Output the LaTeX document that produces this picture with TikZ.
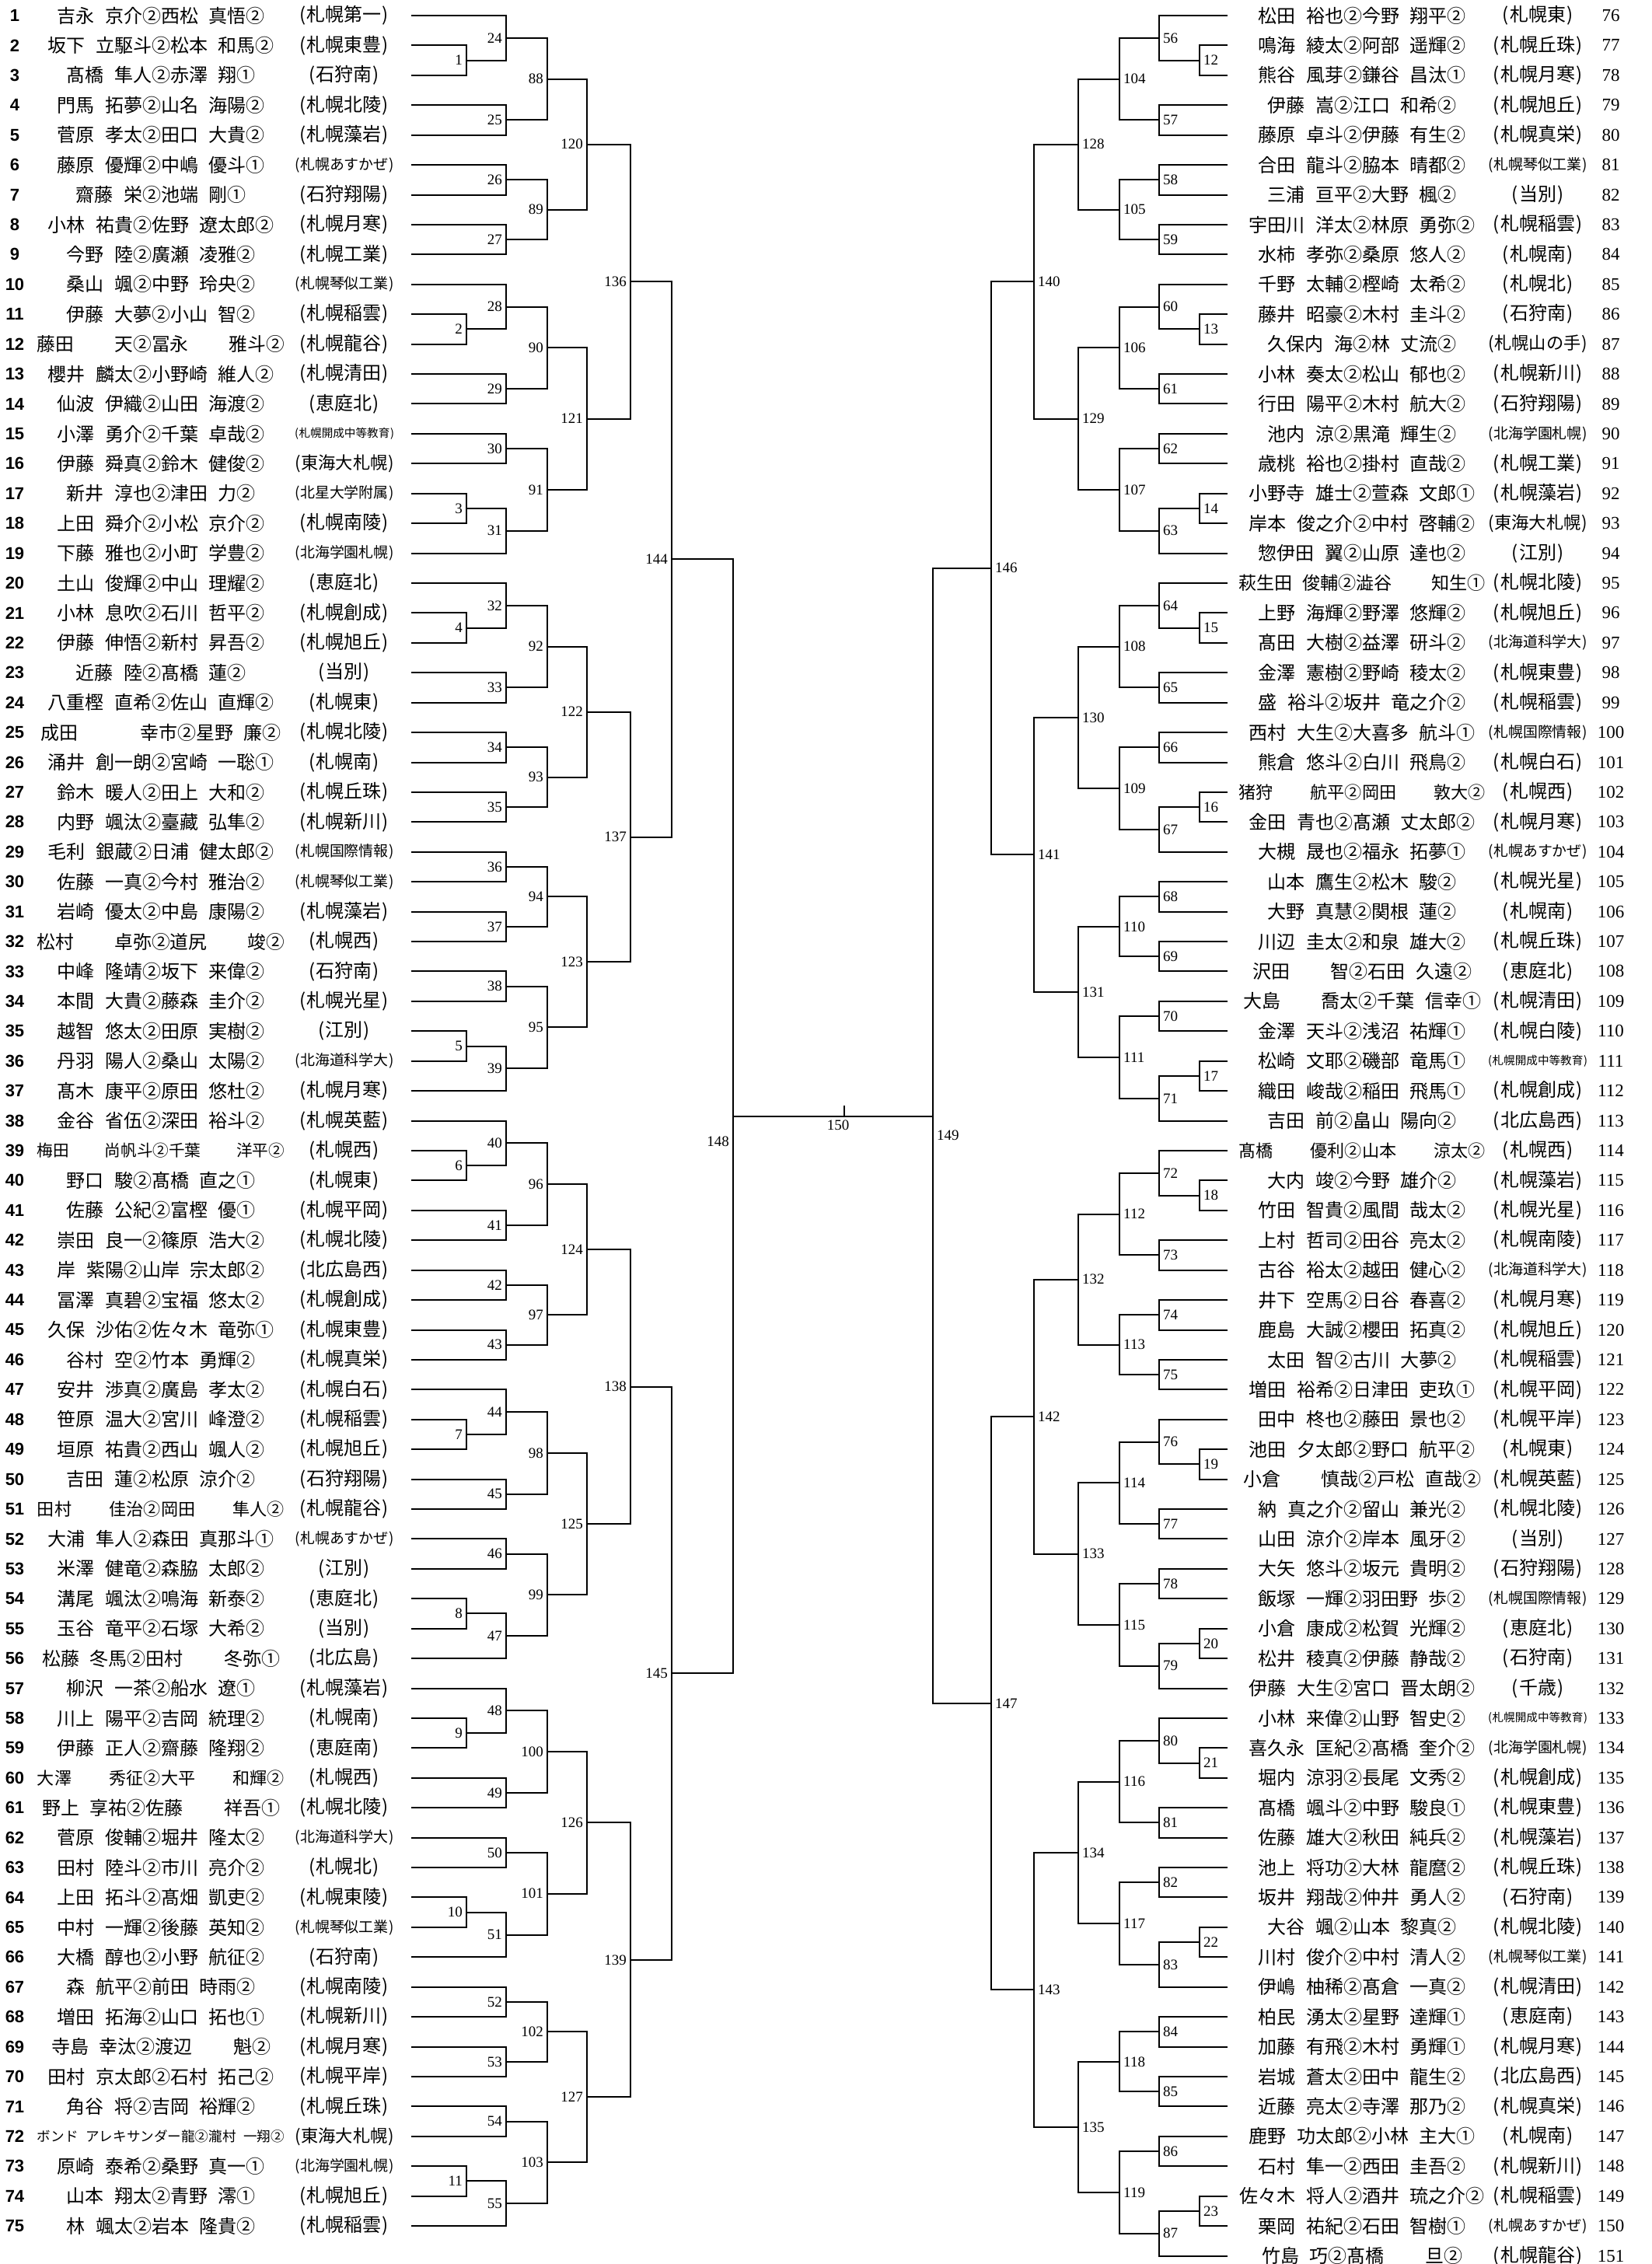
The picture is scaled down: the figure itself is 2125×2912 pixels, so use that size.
\documentclass[tikz,border=0pt]{standalone}
\usepackage{fontspec}
\usepackage{graphicx}
\usepackage{newunicodechar}
\setmainfont{Liberation Serif}
\newfontfamily\jpfont{Noto Sans CJK JP}
\newfontfamily\nofont{Liberation Sans}
\usetikzlibrary{calc}

% the gap in a name is narrower than a full width space
\newunicodechar{　}{\hspace{.55em}}

% shrink a text to a width when it is wider
\newcommand\fitto[2]{\setbox0\hbox{#2}\ifdim\wd0>#1pt\resizebox{#1pt}{!}{\box0}\else\box0\fi}

% match: number, column, two entries
\newcommand\matchL[4]{%
  \path ($(#3)!.5!(#4)$) coordinate (tmp);
  \coordinate (m#1) at (#2 |- tmp);
  \draw[bracket] (#3) -| (m#1) (#4) -| (m#1);
  \node[matchno, anchor=east] (l#1) at ($(m#1)+(-4,0)$) {#1};
}
\newcommand\matchR[4]{%
  \path ($(#3)!.5!(#4)$) coordinate (tmp);
  \coordinate (m#1) at (#2 |- tmp);
  \draw[bracket] (#3) -| (m#1) (#4) -| (m#1);
  \node[matchno, anchor=west] (l#1) at ($(m#1)+(4,0)$) {#1};
}

\tikzset{
  entno/.style={font=\nofont\bfseries\fontsize{22}{22}\selectfont, inner sep=0pt},
  entnoR/.style={font=\fontsize{23}{23}\selectfont, inner sep=0pt},
  entname/.style={font=\jpfont\fontsize{24}{24}\selectfont, inner sep=0pt},
  matchno/.style={font=\fontsize{19}{19}\selectfont, inner sep=1pt},
  bracket/.style={line width=2pt},
}

\begin{document}
\begin{tikzpicture}[x=1pt, y=-1pt]
  \fill[white] (0,0) rectangle (2125,2912);
  \useasboundingbox (0,0) rectangle (2125,2912);

  % columns of the bracket
  \coordinate (xL0) at (600,0);  \coordinate (xL1) at (651,0);
  \coordinate (xL2) at (704,0);  \coordinate (xL3) at (755,0);
  \coordinate (xL4) at (811,0);  \coordinate (xL5) at (864,0);
  \coordinate (xL6) at (943,0);
  \coordinate (xR0) at (1543,0); \coordinate (xR1) at (1491,0);
  \coordinate (xR2) at (1440,0); \coordinate (xR3) at (1387,0);
  \coordinate (xR4) at (1330,0); \coordinate (xR5) at (1275,0);
  \coordinate (xR6) at (1200,0); \coordinate (xC) at (1086,0);

  % left entries
  \foreach \n/\nm/\sc in {
    1/吉永　京介②西松　真悟②/札幌第一,
    2/坂下　立駆斗②松本　和馬②/札幌東豊,
    3/髙橋　隼人②赤澤　翔①/石狩南,
    4/門馬　拓夢②山名　海陽②/札幌北陵,
    5/菅原　孝太②田口　大貴②/札幌藻岩,
    6/藤原　優輝②中嶋　優斗①/札幌あすかぜ,
    7/齋藤　栄②池端　剛①/石狩翔陽,
    8/小林　祐貴②佐野　遼太郎②/札幌月寒,
    9/今野　陸②廣瀬　凌雅②/札幌工業,
    10/桑山　颯②中野　玲央②/札幌琴似工業,
    11/伊藤　大夢②小山　智②/札幌稲雲,
    12/藤田　　　　天②冨永　　　　雅斗②/札幌龍谷,
    13/櫻井　麟太②小野崎　維人②/札幌清田,
    14/仙波　伊織②山田　海渡②/恵庭北,
    15/小澤　勇介②千葉　卓哉②/札幌開成中等教育,
    16/伊藤　舜真②鈴木　健俊②/東海大札幌,
    17/新井　淳也②津田　力②/北星大学附属,
    18/上田　舜介②小松　京介②/札幌南陵,
    19/下藤　雅也②小町　学豊②/北海学園札幌,
    20/土山　俊輝②中山　理耀②/恵庭北,
    21/小林　息吹②石川　哲平②/札幌創成,
    22/伊藤　伸悟②新村　昇吾②/札幌旭丘,
    23/近藤　陸②髙橋　蓮②/当別,
    24/八重樫　直希②佐山　直輝②/札幌東,
    25/成田　　　　　　幸市②星野　廉②/札幌北陵,
    26/涌井　創一朗②宮崎　一聡①/札幌南,
    27/鈴木　暖人②田上　大和②/札幌丘珠,
    28/内野　颯汰②臺藏　弘隼②/札幌新川,
    29/毛利　銀蔵②日浦　健太郎②/札幌国際情報,
    30/佐藤　一真②今村　雅治②/札幌琴似工業,
    31/岩崎　優太②中島　康陽②/札幌藻岩,
    32/松村　　　　卓弥②道尻　　　　竣②/札幌西,
    33/中峰　隆靖②坂下　来偉②/石狩南,
    34/本間　大貴②藤森　圭介②/札幌光星,
    35/越智　悠太②田原　実樹②/江別,
    36/丹羽　陽人②桑山　太陽②/北海道科学大,
    37/髙木　康平②原田　悠杜②/札幌月寒,
    38/金谷　省伍②深田　裕斗②/札幌英藍,
    39/梅田　　　　尚帆斗②千葉　　　　洋平②/札幌西,
    40/野口　駿②髙橋　直之①/札幌東,
    41/佐藤　公紀②富樫　優①/札幌平岡,
    42/崇田　良一②篠原　浩大②/札幌北陵,
    43/岸　紫陽②山岸　宗太郎②/北広島西,
    44/冨澤　真碧②宝福　悠太②/札幌創成,
    45/久保　沙佑②佐々木　竜弥①/札幌東豊,
    46/谷村　空②竹本　勇輝②/札幌真栄,
    47/安井　渉真②廣島　孝太②/札幌白石,
    48/笹原　温大②宮川　峰澄②/札幌稲雲,
    49/垣原　祐貴②西山　颯人②/札幌旭丘,
    50/吉田　蓮②松原　涼介②/石狩翔陽,
    51/田村　　　　佳治②岡田　　　　隼人②/札幌龍谷,
    52/大浦　隼人②森田　真那斗①/札幌あすかぜ,
    53/米澤　健竜②森脇　太郎②/江別,
    54/溝尾　颯汰②鳴海　新泰②/恵庭北,
    55/玉谷　竜平②石塚　大希②/当別,
    56/松藤　冬馬②田村　　　　冬弥①/北広島,
    57/柳沢　一茶②船水　遼①/札幌藻岩,
    58/川上　陽平②吉岡　統理②/札幌南,
    59/伊藤　正人②齋藤　隆翔②/恵庭南,
    60/大澤　　　　秀征②大平　　　　和輝②/札幌西,
    61/野上　享祐②佐藤　　　　祥吾①/札幌北陵,
    62/菅原　俊輔②堀井　隆太②/北海道科学大,
    63/田村　陸斗②市川　亮介②/札幌北,
    64/上田　拓斗②髙畑　凱吏②/札幌東陵,
    65/中村　一輝②後藤　英知②/札幌琴似工業,
    66/大橋　醇也②小野　航征②/石狩南,
    67/森　航平②前田　時雨②/札幌南陵,
    68/増田　拓海②山口　拓也①/札幌新川,
    69/寺島　幸汰②渡辺　　　　魁②/札幌月寒,
    70/田村　京太郎②石村　拓己②/札幌平岸,
    71/角谷　将②吉岡　裕輝②/札幌丘珠,
    72/ボンド　アレキサンダー龍②瀧村　一翔②/東海大札幌,
    73/原崎　泰希②桑野　真一①/北海学園札幌,
    74/山本　翔太②青野　澪①/札幌旭丘,
    75/林　颯太②岩本　隆貴②/札幌稲雲}
  {
    \pgfmathsetmacro\yy{20+(\n-1)*38.42}
    \node[entno] (no\n) at (19,\yy) {\n};
    \node[entname] (nm\n) at (207,\yy) {\fitto{318}{\nm}};
    \node[entname] (sc\n) at (443,\yy) {\fitto{128}{(\kern1pt\sc\kern1pt)}};
    \coordinate (e\n) at (529,\yy);
  }

  % right entries
  \foreach \n/\nm/\sc in {
    76/松田　裕也②今野　翔平②/札幌東,
    77/鳴海　綾太②阿部　遥輝②/札幌丘珠,
    78/熊谷　風芽②鎌谷　昌汰①/札幌月寒,
    79/伊藤　嵩②江口　和希②/札幌旭丘,
    80/藤原　卓斗②伊藤　有生②/札幌真栄,
    81/合田　龍斗②脇本　晴都②/札幌琴似工業,
    82/三浦　亘平②大野　楓②/当別,
    83/宇田川　洋太②林原　勇弥②/札幌稲雲,
    84/水柿　孝弥②桑原　悠人②/札幌南,
    85/千野　太輔②樫崎　太希②/札幌北,
    86/藤井　昭豪②木村　圭斗②/石狩南,
    87/久保内　海②林　丈流②/札幌山の手,
    88/小林　奏太②松山　郁也②/札幌新川,
    89/行田　陽平②木村　航大②/石狩翔陽,
    90/池内　涼②黒滝　輝生②/北海学園札幌,
    91/歳桃　裕也②掛村　直哉②/札幌工業,
    92/小野寺　雄士②萱森　文郎①/札幌藻岩,
    93/岸本　俊之介②中村　啓輔②/東海大札幌,
    94/惣伊田　翼②山原　達也②/江別,
    95/萩生田　俊輔②澁谷　　　　知生①/札幌北陵,
    96/上野　海輝②野澤　悠輝②/札幌旭丘,
    97/髙田　大樹②益澤　研斗②/北海道科学大,
    98/金澤　憲樹②野崎　稜太②/札幌東豊,
    99/盛　裕斗②坂井　竜之介②/札幌稲雲,
    100/西村　大生②大喜多　航斗①/札幌国際情報,
    101/熊倉　悠斗②白川　飛鳥②/札幌白石,
    102/猪狩　　　　航平②岡田　　　　敦大②/札幌西,
    103/金田　青也②髙瀬　丈太郎②/札幌月寒,
    104/大槻　晟也②福永　拓夢①/札幌あすかぜ,
    105/山本　鷹生②松木　駿②/札幌光星,
    106/大野　真慧②関根　蓮②/札幌南,
    107/川辺　圭太②和泉　雄大②/札幌丘珠,
    108/沢田　　　　智②石田　久遠②/恵庭北,
    109/大島　　　　喬太②千葉　信幸①/札幌清田,
    110/金澤　天斗②浅沼　祐輝①/札幌白陵,
    111/松崎　文耶②磯部　竜馬①/札幌開成中等教育,
    112/織田　峻哉②稲田　飛馬①/札幌創成,
    113/吉田　前②畠山　陽向②/北広島西,
    114/髙橋　　　　優利②山本　　　　涼太②/札幌西,
    115/大内　竣②今野　雄介②/札幌藻岩,
    116/竹田　智貴②風間　哉太②/札幌光星,
    117/上村　哲司②田谷　亮太②/札幌南陵,
    118/古谷　裕太②越田　健心②/北海道科学大,
    119/井下　空馬②日谷　春喜②/札幌月寒,
    120/鹿島　大誠②櫻田　拓真②/札幌旭丘,
    121/太田　智②古川　大夢②/札幌稲雲,
    122/増田　裕希②日津田　吏玖①/札幌平岡,
    123/田中　柊也②藤田　景也②/札幌平岸,
    124/池田　夕太郎②野口　航平②/札幌東,
    125/小倉　　　　慎哉②戸松　直哉②/札幌英藍,
    126/納　真之介②留山　兼光②/札幌北陵,
    127/山田　涼介②岸本　風牙②/当別,
    128/大矢　悠斗②坂元　貴明②/石狩翔陽,
    129/飯塚　一輝②羽田野　歩②/札幌国際情報,
    130/小倉　康成②松賀　光輝②/恵庭北,
    131/松井　稜真②伊藤　静哉②/石狩南,
    132/伊藤　大生②宮口　晋太朗②/千歳,
    133/小林　来偉②山野　智史②/札幌開成中等教育,
    134/喜久永　匡紀②髙橋　奎介②/北海学園札幌,
    135/堀内　涼羽②長尾　文秀②/札幌創成,
    136/髙橋　颯斗②中野　駿良①/札幌東豊,
    137/佐藤　雄大②秋田　純兵②/札幌藻岩,
    138/池上　将功②大林　龍麿②/札幌丘珠,
    139/坂井　翔哉②仲井　勇人②/石狩南,
    140/大谷　颯②山本　黎真②/札幌北陵,
    141/川村　俊介②中村　清人②/札幌琴似工業,
    142/伊嶋　柚稀②髙倉　一真②/札幌清田,
    143/柏民　湧太②星野　達輝①/恵庭南,
    144/加藤　有飛②木村　勇輝①/札幌月寒,
    145/岩城　蒼太②田中　龍生②/北広島西,
    146/近藤　亮太②寺澤　那乃②/札幌真栄,
    147/鹿野　功太郎②小林　主大①/札幌南,
    148/石村　隼一②西田　圭吾②/札幌新川,
    149/佐々木　将人②酒井　琉之介②/札幌稲雲,
    150/栗岡　祐紀②石田　智樹①/札幌あすかぜ,
    151/竹島　巧②髙橋　　　　旦②/札幌龍谷}
  {
    \pgfmathsetmacro\yy{20+(\n-76)*38.42}
    \node[entnoR] (no\n) at (2072,\yy) {\n};
    \node[entname] (nm\n) at (1752,\yy) {\fitto{318}{\nm}};
    \node[entname] (sc\n) at (1978,\yy) {\fitto{128}{(\kern1pt\sc\kern1pt)}};
    \coordinate (e\n) at (1579,\yy);
  }

  % first round, left
  \foreach \k/\a/\b in {1/2/3, 2/11/12, 3/17/18, 4/21/22, 5/35/36, 6/39/40,
                        7/48/49, 8/54/55, 9/58/59, 10/64/65, 11/73/74}
    {\matchL{\k}{xL0}{e\a}{e\b}}
  % first round, right
  \foreach \k/\a/\b in {12/77/78, 13/86/87, 14/92/93, 15/96/97, 16/102/103,
                        17/111/112, 18/115/116, 19/124/125, 20/130/131,
                        21/134/135, 22/140/141, 23/149/150}
    {\matchR{\k}{xR0}{e\a}{e\b}}

  % second round, left
  \foreach \k/\a/\b in {24/e1/m1, 25/e4/e5, 26/e6/e7, 27/e8/e9, 28/e10/m2,
                        29/e13/e14, 30/e15/e16, 31/m3/e19, 32/e20/m4, 33/e23/e24,
                        34/e25/e26, 35/e27/e28, 36/e29/e30, 37/e31/e32, 38/e33/e34,
                        39/m5/e37, 40/e38/m6, 41/e41/e42, 42/e43/e44, 43/e45/e46,
                        44/e47/m7, 45/e50/e51, 46/e52/e53, 47/m8/e56, 48/e57/m9,
                        49/e60/e61, 50/e62/e63, 51/m10/e66, 52/e67/e68, 53/e69/e70,
                        54/e71/e72, 55/m11/e75}
    {\matchL{\k}{xL1}{\a}{\b}}
  % second round, right
  \foreach \k/\a/\b in {56/e76/m12, 57/e79/e80, 58/e81/e82, 59/e83/e84, 60/e85/m13,
                        61/e88/e89, 62/e90/e91, 63/m14/e94, 64/e95/m15, 65/e98/e99,
                        66/e100/e101, 67/m16/e104, 68/e105/e106, 69/e107/e108,
                        70/e109/e110, 71/m17/e113, 72/e114/m18, 73/e117/e118,
                        74/e119/e120, 75/e121/e122, 76/e123/m19, 77/e126/e127,
                        78/e128/e129, 79/m20/e132, 80/e133/m21, 81/e136/e137,
                        82/e138/e139, 83/m22/e142, 84/e143/e144, 85/e145/e146,
                        86/e147/e148, 87/m23/e151}
    {\matchR{\k}{xR1}{\a}{\b}}

  % later rounds
  \foreach \i in {0,...,15} {
    \pgfmathtruncatemacro\a{24+2*\i} \pgfmathtruncatemacro\b{25+2*\i}
    \pgfmathtruncatemacro\k{88+\i}
    \matchL{\k}{xL2}{m\a}{m\b}
    \pgfmathtruncatemacro\a{56+2*\i} \pgfmathtruncatemacro\b{57+2*\i}
    \pgfmathtruncatemacro\k{104+\i}
    \matchR{\k}{xR2}{m\a}{m\b}
  }
  \foreach \i in {0,...,7} {
    \pgfmathtruncatemacro\a{88+2*\i} \pgfmathtruncatemacro\b{89+2*\i}
    \pgfmathtruncatemacro\k{120+\i}
    \matchL{\k}{xL3}{m\a}{m\b}
    \pgfmathtruncatemacro\a{104+2*\i} \pgfmathtruncatemacro\b{105+2*\i}
    \pgfmathtruncatemacro\k{128+\i}
    \matchR{\k}{xR3}{m\a}{m\b}
  }
  \foreach \i in {0,...,3} {
    \pgfmathtruncatemacro\a{120+2*\i} \pgfmathtruncatemacro\b{121+2*\i}
    \pgfmathtruncatemacro\k{136+\i}
    \matchL{\k}{xL4}{m\a}{m\b}
    \pgfmathtruncatemacro\a{128+2*\i} \pgfmathtruncatemacro\b{129+2*\i}
    \pgfmathtruncatemacro\k{140+\i}
    \matchR{\k}{xR4}{m\a}{m\b}
  }
  \matchL{144}{xL5}{m136}{m137}
  \matchL{145}{xL5}{m138}{m139}
  \matchR{146}{xR5}{m140}{m141}
  \matchR{147}{xR5}{m142}{m143}
  \matchR{149}{xR6}{m146}{m147}

  % semi final, left
  \path ($(m144)!.5!(m145)$) coordinate (tmp);
  \coordinate (m148) at (xL6 |- tmp);
  \draw[bracket] (m144) -| (m148) (m145) -| (m148);
  \node[matchno, anchor=east] (l148) at ($(m148)+(-4,32)$) {148};

  % final
  \draw[bracket] (m148) -- (m148 -| m149);
  \coordinate (f150) at (xC |- m148);
  \coordinate (t150) at ($(f150)+(0,-14)$);
  \draw[bracket] (f150) -- (t150);
  \node[matchno, anchor=north] (l150) at ($(f150)+(-8,4)$) {150};
\end{tikzpicture}
\end{document}
